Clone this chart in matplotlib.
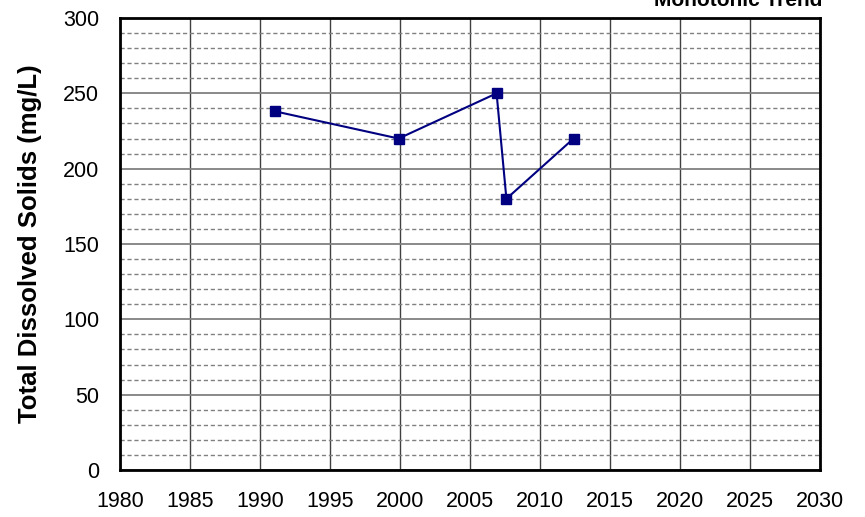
import matplotlib
matplotlib.use("Agg")
import matplotlib.pyplot as plt
import numpy as np

years = [1991.1, 1999.9, 2006.9, 2007.6, 2012.4]
tds = [238, 220, 250, 180, 220]
x_ticks = [1980, 1985, 1990, 1995, 2000, 2005, 2010, 2015, 2020, 2025, 2030]
y_ticks = [0, 50, 100, 150, 200, 250, 300]

plt.rcParams['font.family'] = ['Liberation Sans', 'DejaVu Sans']
fig = plt.figure(figsize=(8.65, 5.17), dpi=100)
ax = fig.add_axes([120/865, 1-470/517, 700/865, 452/517])

ax.set_xlim(1980, 2030)
ax.set_ylim(0, 300)
ax.set_xticks(x_ticks)
ax.set_yticks(y_ticks)
ax.set_yticks(np.arange(0, 301, 10), minor=True)
ax.tick_params(axis='both', which='both', length=0, labelsize=15.5, colors='black')
ax.tick_params(axis='x', pad=15)
ax.tick_params(axis='y', pad=15)

ax.grid(which='minor', axis='y', color='#808080', linestyle=(0, (3, 2)), linewidth=1.0)
ax.grid(which='major', axis='y', color='#808080', linestyle='-', linewidth=1.3)
ax.grid(which='major', axis='x', color='#404040', linestyle='-', linewidth=1.0)
ax.set_axisbelow(True)
for s in ax.spines.values():
    s.set_linewidth(2)
    s.set_color('black')

ax.plot(years, tds, color='#000080', linewidth=1.5, marker='s', markersize=7,
        markerfacecolor='#000080', markeredgecolor='#000080', zorder=3)

ax.set_ylabel('Total Dissolved Solids (mg/L)', fontsize=18.5, fontweight='bold', va='center')
ax.yaxis.set_label_coords((30 - 120) / 700, 0.5)

fig.text(822/865, 1-6/517, 'Monotonic Trend', ha='right', va='baseline',
         fontsize=15, fontweight='bold')

fig.savefig('out.png', dpi=100)
